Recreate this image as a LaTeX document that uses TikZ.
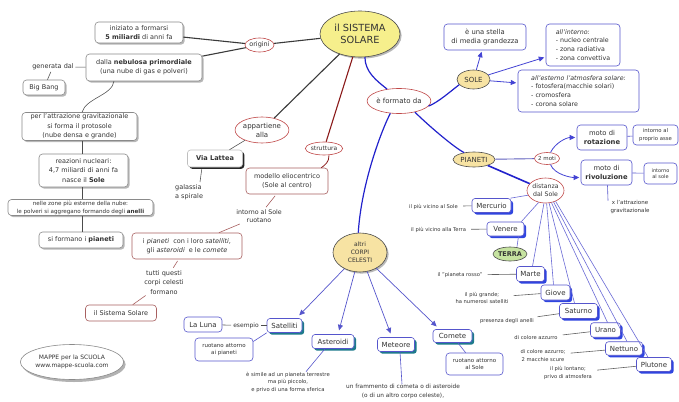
\documentclass[tikz,border=0pt]{standalone}
\usepackage{fontspec}
\setmainfont{DejaVu Sans}
\usetikzlibrary{shapes.geometric,shadows,arrows.meta}
\definecolor{txt}{HTML}{333333}
\definecolor{redb}{HTML}{C04848}
\definecolor{brownb}{HTML}{A86060}
\definecolor{blueb}{HTML}{5555CC}
\definecolor{grayb}{HTML}{8A8A8A}
\definecolor{darkl}{HTML}{3A3A3A}
\definecolor{dred}{HTML}{8B1A1A}
\definecolor{blu}{HTML}{2222CC}
\definecolor{planshadow}{HTML}{2F45E0}
\definecolor{tealshadow}{HTML}{1E7A8C}
\definecolor{yel}{HTML}{F6EF8C}
\definecolor{beige}{HTML}{F7E3A3}
\definecolor{grn}{HTML}{C6E3A0}
\definecolor{thinbl}{HTML}{6A6AD6}
\newcommand\fz[2]{\fontsize{#1}{#2}\selectfont}
\tikzset{
  every node/.style={text=txt, inner sep=0pt, align=center},
  sz/.style 2 args={minimum width=#1pt, minimum height=#2pt},
  f5/.style={font=\fz{5}{6.5}},
  f52/.style={font=\fz{5.2}{7.8}},
  f53/.style={font=\fz{5.3}{7.5}},
  f55/.style={font=\fz{5.5}{7.2}},
  f56/.style={font=\fz{5.6}{7.8}},
  f57/.style={font=\fz{5.8}{8.6}},
  f6/.style={font=\fz{6}{7.8}},
  f62/.style={font=\fz{6.2}{7.8}},
  f63/.style={font=\fz{6.3}{8.7}},
  f65/.style={font=\fz{6.5}{9.3}},
  f68/.style={font=\fz{6.8}{8.5}},
  f7/.style={font=\fz{7}{8.8}},
  gshad/.style={drop shadow={shadow xshift=1.6pt,shadow yshift=-1.6pt,fill=black!28,opacity=1}},
  gbox/.style={draw=grayb, fill=white, rounded corners=3.5pt, line width=0.6pt, gshad},
  brownbox/.style={draw=brownb, fill=white, rounded corners=3.5pt, line width=0.6pt},
  bluebox/.style={draw=blueb, fill=white, rounded corners=3.5pt, line width=0.6pt},
  redell/.style={ellipse, draw=redb, fill=white, line width=0.6pt},
  beigeell/.style={ellipse, draw=gray!60!black, fill=beige, line width=0.6pt},
  planbox/.style={draw=blueb, fill=white, rounded corners=3pt, line width=0.6pt, font=\fz{7}{8},
     drop shadow={shadow xshift=2.2pt,shadow yshift=-2.2pt,fill=planshadow,opacity=1}},
  tealbox/.style={draw=blueb, fill=white, rounded corners=3pt, line width=0.6pt, font=\fz{7}{8},
     drop shadow={shadow xshift=2.2pt,shadow yshift=-2.2pt,fill=tealshadow,opacity=1}},
  dk/.style={draw=darkl, line width=1.1pt},
  dr/.style={draw=dred, line width=1.1pt},
  bl/.style={draw=blu, line width=1.2pt},
  ln/.style={draw=gray!60!black, line width=0.55pt},
  lnr/.style={draw=brownb, line width=0.6pt},
  lnb/.style={draw=blueb, line width=0.6pt},
  plan/.style={draw=thinbl, line width=0.6pt},
  lab/.style={draw=darkl!80, line width=0.6pt, shorten <=4pt},
  arr/.style={draw=blu!85!white, line width=0.8pt, shorten >=1.5pt, -{Triangle[length=5.5pt,width=5pt]}},
  carr/.style={draw=blueb, line width=0.7pt, shorten >=4pt, -{Triangle[length=5.5pt,width=5pt]}},
}
\begin{document}
\begin{tikzpicture}[x=1pt,y=-1pt]
\fill[white] (0,0) rectangle (679,401);
\useasboundingbox (0,0) rectangle (679,401);

% ---- left column
\node[gbox,f65,sz={88}{21}] (iniziato) at (139,32.5) {iniziato a formarsi\\\textbf{5 miliardi} di anni fa};
\node[gbox,f65,sz={116}{27}] (nebulosa) at (144,67.5) {dalla \textbf{nebulosa primordiale}\\(una nube di gas e polveri)};
\node[f65,inner sep=1.5pt] (generata) at (53,67) {generata dal};
\node[gbox,f65,sz={42}{15}] (bigbang) at (44,87.5) {Big Bang};
\node[gbox,f65,sz={115}{28}] (protosole) at (79.5,126.5) {per l'attrazione gravitazionale\\si forma il protosole\\(nube densa e grande)};
\node[gbox,f65,sz={89}{33}] (reazioni) at (83.5,170.5) {reazioni nucleari:\\4,7 miliardi di anni fa\\nasce il \textbf{Sole}};
\node[gbox,f56,sz={145}{16}] (nelle) at (80.5,207.5) {nelle zone più esterne della nube:\\le polveri si aggregano formando degli \textbf{anelli}};
\node[gbox,f65,sz={84}{16}] (sipianeti) at (81,240) {si formano i \textbf{pianeti}};

% ---- centre
\node[redell,f65,sz={29}{14}] (origini) at (259.5,45) {origini};
\node[ellipse, draw=gray!60!black, fill=yel, line width=0.6pt, gshad, sz={80}{46}, font=\fz{9.8}{11.7}] (title) at (360,34) {il SISTEMA\\SOLARE};
\node[redell,f7,sz={52}{26}] (appartiene) at (262,130) {appartiene\\alla};
\node[draw=gray!50, fill=white, rounded corners=3pt, line width=0.6pt,
  drop shadow={shadow xshift=1.8pt,shadow yshift=-1.8pt,fill=black!85,opacity=1},
  font=\bfseries\fz{6.6}{8}, sz={55}{17}] (vialattea) at (215,158.5) {Via Lattea};
\node[f65, align=left, anchor=north west] (galassia) at (175,184) {galassia\\a spirale};
\node[redell,f6,sz={29}{13}] (struttura) at (324,148.5) {struttura};
\node[brownbox,f65,sz={82}{26}] (modello) at (287,181) {modello eliocentrico\\(Sole al centro)};
\node[f63,inner sep=1pt] (intorno) at (259,216) {intorno al Sole\\ruotano};
\node[brownbox,f65,sz={110}{26}] (ipianeti) at (187,246) {i \textit{pianeti}\ \ con i loro \textit{satelliti},\\gli \textit{asteroidi}\ \ e le \textit{comete}};
\node[f65,inner sep=1pt] (tutti) at (164,282.5) {tutti questi\\corpi celesti\\formano};
\node[brownbox,f65,sz={71}{16}] (sistema) at (121,313) {il Sistema Solare};
\node[ellipse, draw=grayb, fill=white, line width=0.6pt,
  drop shadow={shadow xshift=2pt,shadow yshift=-2.5pt,fill=black!30,opacity=1},
  font=\fz{6}{8}, sz={90}{35}] (mappe) at (72,362) {MAPPE per la SCUOLA\\www.mappe-scuola.com};

\node[redell,f7,sz={54}{25}] (formato) at (399,101) {è formato da};

% ---- sole
\node[beigeell,f7,sz={33}{19}] (sole) at (473.5,79.5) {SOLE};
\node[bluebox,f68,sz={82}{26}] (stella) at (485,37) {è una stella\\di media grandezza};
\node[bluebox,f63,align=left,sz={74}{42}] (interno) at (583,45) {\textit{all'interno:}\\- nucleo centrale\\- zona radiativa\\- zona convettiva};
\node[bluebox,f63,align=left,sz={121}{42}] (esterno) at (578.5,91) {\textit{all'esterno l'atmosfera solare:}\\- fotosfera(macchie solari)\\- cromosfera\\- corona solare};

% ---- pianeti
\node[beigeell,f7,sz={42}{15}] (pianeti) at (474,159.5) {PIANETI};
\node[redell,f55,sz={24}{12}] (duemoti) at (547,158.5) {2 moti};
\node[bluebox,f68,sz={50}{25}] (rotazione) at (602,137.5) {moto di\\\textbf{rotazione}};
\node[bluebox,f53,sz={45}{20}] (asse) at (655.5,135) {intorno al\\proprio asse};
\node[bluebox,f68,sz={51}{25}] (rivoluzione) at (606.5,172.5) {moto di\\\textbf{rivoluzione}};
\node[bluebox,f5,sz={33}{21}] (intsole) at (660.5,173.5) {intorno\\al sole};
\node[f55] (xattr) at (630,207) {x l'attrazione\\gravitazionale};
\node[redell,f62,sz={37}{25}] (distanza) at (545.5,190.5) {distanza\\dal Sole};

\node[planbox,sz={39}{14}] (mercurio) at (491.5,205.5) {Mercurio};
\node[planbox,sz={37}{14}] (venere) at (505.5,229) {Venere};
\node[ellipse, draw=gray!60!black, fill=grn, line width=0.6pt, font=\bfseries\fz{6.5}{8}, sz={34}{14}] (terra) at (510,254) {TERRA};
\node[planbox,sz={28}{15}] (marte) at (530.5,274) {Marte};
\node[planbox,sz={29}{15}] (giove) at (555.5,292.5) {Giove};
\node[planbox,sz={38}{15}] (saturno) at (578.5,311) {Saturno};
\node[planbox,sz={30}{14.5}] (urano) at (605.5,330) {Urano};
\node[planbox,sz={37}{13.5}] (nettuno) at (624,348.5) {Nettuno};
\node[planbox,sz={35}{14}] (plutone) at (654,364.5) {Plutone};

\node[f52,inner sep=1pt] (lmerc) at (433.5,206.5) {il più vicino al Sole};
\node[f52,inner sep=1pt] (lven) at (438.5,229.5) {il più vicino alla Terra};
\node[f52,inner sep=1pt] (lmarte) at (460,275) {il "pianeta rosso"};
\node[f52,inner sep=1pt] (lgiove) at (482,298) {il più grande;\\ha numerosi satelliti};
\node[f52,inner sep=1pt] (lsat) at (507,321) {presenza degli anelli};
\node[f52,inner sep=1pt] (luran) at (536,338) {di colore azzurro};
\node[f52,inner sep=1pt] (lnett) at (543,355.5) {di colore azzurro;\\2 macchie scure};
\node[f52,inner sep=1pt] (lplut) at (568,373) {il più lontano;\\privo di atmosfera};

% ---- altri corpi celesti
\node[beigeell,f6,sz={54}{39},gshad] (corpi) at (360,252.5) {altri\\CORPI\\CELESTI};
\node[tealbox,sz={35}{14}] (satelliti) at (284.5,325.5) {Satelliti};
\node[tealbox,sz={42}{14}] (asteroidi) at (333,341.5) {Asteroidi};
\node[tealbox,sz={37}{14}] (meteore) at (396,344.5) {Meteore};
\node[tealbox,sz={39}{13}] (comete) at (452.5,336) {Comete};
\node[bluebox,f7,sz={38}{15}] (laluna) at (203,324.5) {La Luna};
\node[f6,inner sep=2pt] (esempio) at (246,325.5) {esempio};
\node[bluebox,f55,sz={58}{23}] (rp) at (224,349.5) {ruotano attorno\\ai pianeti};
\node[f53] (simile) at (288,382) {è simile ad un pianeta terrestre\\ma più piccolo,\\e privo di una forma sferica};
\node[f57] (frammento) at (403,391.5) {un frammento di cometa o di asteroide\\(o di un altro corpo celeste),};
\node[bluebox,f55,sz={57}{22}] (rs) at (474.5,364) {ruotano attorno\\al Sole};

% ---- connectors left
\draw[dk] (origini) -- (iniziato);
\draw[dk] (origini) -- (nebulosa);
\draw[dk] (origini) -- (title);
\draw[ln] (generata) -- (nebulosa);
\draw[ln] (generata) -- (bigbang);
\draw[ln] ([xshift=2.5pt]protosole.north) .. controls +(4,-14) and +(-2,14) .. ([xshift=-30pt]nebulosa.south);
\draw[ln] ([xshift=2.5pt]protosole.south) -- ([xshift=-1.5pt]reazioni.north);
\draw[ln] ([xshift=-1.5pt]reazioni.south) -- ([xshift=1.5pt]nelle.north);
\draw[ln] ([xshift=1.5pt]nelle.south) -- ([xshift=1pt]sipianeti.north);

% ---- connectors centre
\draw[dk] (title) -- (appartiene);
\draw[ln] (appartiene) -- (vialattea);
\draw[ln, shorten <=2pt] ([xshift=-13pt]vialattea.south) -- ([xshift=25pt,yshift=2pt]galassia.north west);
\draw[dr] (title) -- (struttura);
\draw[dr, line width=0.8pt] ([xshift=5pt]struttura.south) .. controls +(0,7) and +(4,-3) .. ([xshift=-7pt]modello.north east);
\draw[lnr, shorten <=2pt, shorten >=1pt] (modello) -- (intorno);
\draw[lnr] (intorno) -- (ipianeti);
\draw[lnr, shorten <=2pt, shorten >=2pt] (ipianeti) -- (tutti);
\draw[lnr] (tutti) -- (sistema);

% ---- blue main branches
\draw[bl] (title.-78) .. controls +(0,15) and +(-10,-8) .. (formato.135);
\draw[bl] (formato.-10) .. controls +(10,-4) and +(-8,6) .. (sole.200);
\draw[bl] (formato.-35) .. controls +(12,12) and +(-10,-5) .. (pianeti.145);
\draw[bl] (formato.-125) .. controls +(-8,15) and +(3,-50) .. (corpi.95);

% ---- sole arrows
\draw[arr] (sole) -- ([xshift=-3pt]stella.south);
\draw[arr] (sole) -- ([yshift=-12pt]interno.west);
\draw[arr] (sole) -- ([yshift=8pt]esterno.west);

% ---- pianeti
\draw[draw=blueb!80!gray, line width=0.9pt] (pianeti) -- (duemoti);
\draw[arr] (duemoti.60) .. controls +(5,-10) and +(-10,0) .. (rotazione.west);
\draw[arr] (duemoti.-60) .. controls +(4,10) and +(-10,0) .. ([yshift=-5pt]rivoluzione.west);
\draw[lnb] (rotazione) -- (asse);
\draw[lnb] (rivoluzione) -- (intsole);
\draw[lnb] ([xshift=1pt]rivoluzione.south) -- ([xshift=-22pt]xattr.north);
\draw[bl, line width=1.6pt] (pianeti) -- (distanza);

\draw[plan] (distanza.195) -- ([xshift=-1pt]mercurio.north east);
\draw[plan] (distanza.-120) -- ([xshift=-3pt]venere.north east);
\draw[plan] (distanza.-97) -- ([xshift=2pt]marte.north);
\draw[plan] (distanza.-85) -- ([xshift=-2pt]giove.north);
\draw[plan] (distanza.-74) -- ([xshift=-4pt]saturno.north);
\draw[plan] (distanza.-64) -- ([xshift=2pt]urano.north);
\draw[plan] (distanza.-55) -- ([xshift=3pt]nettuno.north);
\draw[plan] (distanza.-47) -- ([xshift=-6pt]plutone.north);
\draw[plan] ([xshift=13pt]venere.south) -- ([xshift=7pt]terra.north);

\draw[lab] (lmerc) -- (mercurio);
\draw[lab] (lven) -- (venere);
\draw[lab] (lmarte) -- (marte);
\draw[lab] (lgiove) -- (giove);
\draw[lab] (lsat) -- (saturno);
\draw[lab] (luran) -- (urano);
\draw[lab] (lnett) -- (nettuno);
\draw[lab] (lplut) -- (plutone);

% ---- corpi celesti
\draw[carr] (corpi) -- ([xshift=12pt]satelliti.north);
\draw[carr] (corpi) -- ([xshift=5pt]asteroidi.north);
\draw[carr] (corpi) -- ([xshift=-4pt]meteore.north);
\draw[carr] (corpi) -- ([xshift=-13pt]comete.north);
\draw[ln] (laluna) -- (esempio);
\draw[ln] (esempio) -- (satelliti);
\draw[lnb] (satelliti.south west) -- ([yshift=8pt]rp.east);
\draw[lnb] ([xshift=-8pt]asteroidi.south) -- ([xshift=18pt]simile.north);
\draw[lnb] ([xshift=4pt]meteore.south) -- ([xshift=-1pt]frammento.north);
\draw[lnb] (comete) -- (rs);
\end{tikzpicture}
\end{document}
